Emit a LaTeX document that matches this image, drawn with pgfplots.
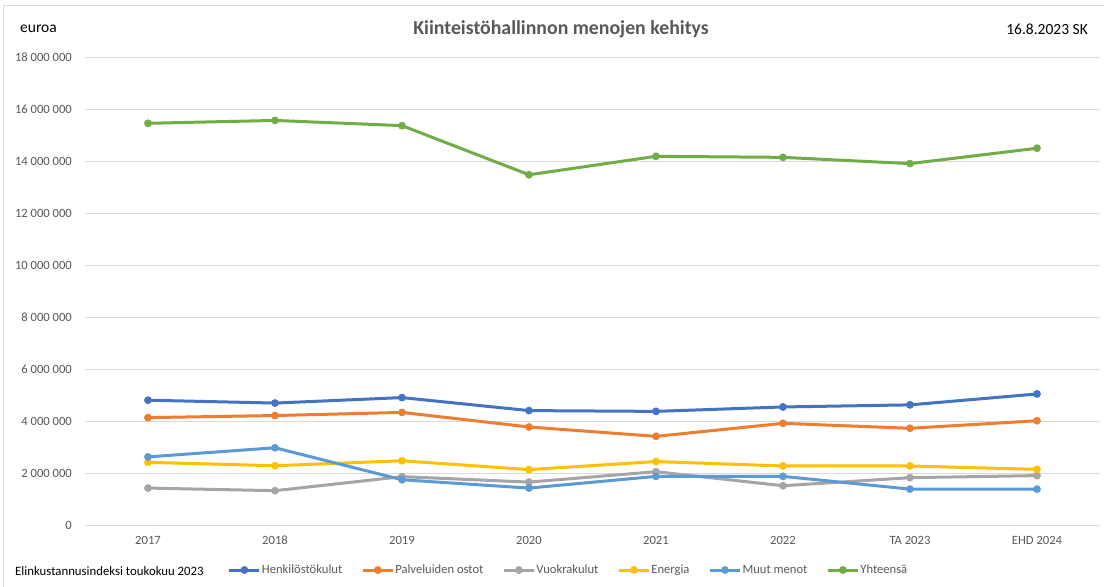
\documentclass[border=0pt]{standalone}
\usepackage{pgfplots}
\usepackage{pgfplotstable}
\pgfplotsset{compat=1.18}
\usepackage{fontspec}
\setmainfont{Carlito}
\definecolor{cBlue}{HTML}{4472C4}
\definecolor{cOrange}{HTML}{ED7D31}
\definecolor{cGray}{HTML}{A5A5A5}
\definecolor{cYellow}{HTML}{FFC000}
\definecolor{cLBlue}{HTML}{5B9BD5}
\definecolor{cGreen}{HTML}{70AD47}
\definecolor{gridc}{HTML}{D9D9D9}
\definecolor{txt}{HTML}{595959}

\pgfplotstableread{
x henk palv vuok ener muut yht
0 4800000 4130000 1420000 2410000 2620000 15450000
1 4690000 4210000 1320000 2280000 2970000 15560000
2 4900000 4330000 1860000 2470000 1740000 15360000
3 4400000 3770000 1650000 2130000 1420000 13470000
4 4370000 3410000 2050000 2440000 1870000 14180000
5 4540000 3910000 1510000 2270000 1870000 14140000
6 4620000 3720000 1820000 2270000 1380000 13900000
7 5040000 4010000 1900000 2140000 1380000 14490000
}\datatable

\begin{document}
\begin{tikzpicture}
\useasboundingbox (0,0) rectangle (1104bp,587bp);
\fill[white] (0,0) rectangle (1104bp,587bp);
\draw[gridc, line width=0.75bp] (3bp,0) -- (3bp,582bp) -- (1104bp,582bp);
\begin{axis}[
  at={(84.5bp,62bp)}, anchor=south west,
  scale only axis, width=1016bp, height=468bp,
  xmin=-0.5, xmax=7.5, ymin=0, ymax=18000000,
  axis line style={draw=none},
  scaled y ticks=false,
  ymajorgrids, grid style={gridc, line width=0.9bp},
  xtick={0,...,7},
  xticklabels={2017,2018,2019,2020,2021,2022,TA 2023,EHD 2024},
  ytick={0,2000000,4000000,6000000,8000000,10000000,12000000,14000000,16000000,18000000},
  yticklabels={0,2 000 000,4 000 000,6 000 000,8 000 000,10 000 000,12 000 000,14 000 000,16 000 000,18 000 000},
  major tick length=0pt,
  tick label style={font=\fontsize{12.6bp}{14bp}\selectfont, text=txt, inner sep=0pt},
  xticklabel style={anchor=north, yshift=-11bp},
  yticklabel style={anchor=east, xshift=-12.5bp},
  legend style={at={(axis description cs:0.1412,-0.0962)}, anchor=west,
    draw=none, fill=none, inner sep=0pt, outer sep=0pt,
    font=\fontsize{12.6bp}{14bp}\selectfont, text=txt,
    legend columns=-1,
    nodes={inner xsep=1bp, inner ysep=0pt},
    /tikz/every even column/.append style={column sep=18bp}},
  legend image code/.code={\draw[mark repeat=2,mark phase=2,#1] plot coordinates {(0bp,0bp) (15bp,0bp) (30bp,0bp)};},
  clip=false,
]
\addplot[cBlue, line width=3bp, mark=*, mark size=3.6bp, mark options={fill=cBlue, line width=0.5bp}] table[x=x,y=henk]{\datatable};
\addlegendentry{Henkilöstökulut}
\addplot[cOrange, line width=3bp, mark=*, mark size=3.6bp, mark options={fill=cOrange, line width=0.5bp}] table[x=x,y=palv]{\datatable};
\addlegendentry{Palveluiden ostot}
\addplot[cGray, line width=3bp, mark=*, mark size=3.6bp, mark options={fill=cGray, line width=0.5bp}] table[x=x,y=vuok]{\datatable};
\addlegendentry{Vuokrakulut}
\addplot[cYellow, line width=3bp, mark=*, mark size=3.6bp, mark options={fill=cYellow, line width=0.5bp}] table[x=x,y=ener]{\datatable};
\addlegendentry{Energia}
\addplot[cLBlue, line width=3bp, mark=*, mark size=3.6bp, mark options={fill=cLBlue, line width=0.5bp}] table[x=x,y=muut]{\datatable};
\addlegendentry{Muut menot}
\addplot[cGreen, line width=3bp, mark=*, mark size=3.6bp, mark options={fill=cGreen, line width=0.5bp}] table[x=x,y=yht]{\datatable};
\addlegendentry{Yhteensä}
\end{axis}
\node[anchor=center, font=\fontsize{19.8bp}{22bp}\selectfont\bfseries, text=txt] at (561bp,558bp) {Kiinteistöhallinnon menojen kehitys};
\node[anchor=west, inner sep=0pt, font=\fontsize{15.5bp}{18bp}\selectfont] at (20bp,558bp) {euroa};
\node[anchor=east, inner sep=0pt, font=\fontsize{15.5bp}{18bp}\selectfont] at (1088bp,558bp) {16.8.2023 SK};
\node[anchor=west, inner sep=0pt, font=\fontsize{12.8bp}{14bp}\selectfont] at (15bp,16bp) {Elinkustannusindeksi toukokuu 2023};
\end{tikzpicture}
\end{document}
